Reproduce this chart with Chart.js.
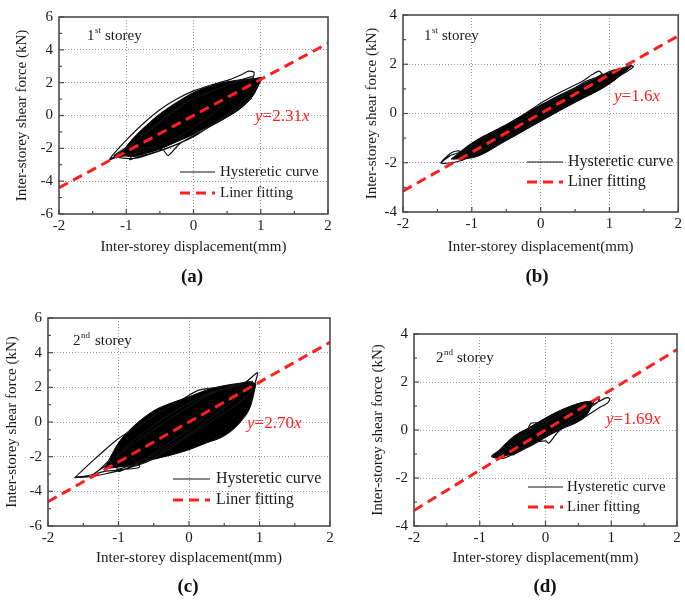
<!DOCTYPE html>
<html><head><meta charset="utf-8">
<script src="https://cdn.jsdelivr.net/npm/chart.js@4"></script>
<style>
html,body{margin:0;padding:0;background:#fff;}
#wrap{position:relative;width:685px;height:601px;overflow:hidden;}
canvas{position:absolute;}
</style></head><body>
<div id="wrap">
<canvas id="ca" width="345" height="300" style="left:0;top:0"></canvas>
<canvas id="cb" width="340" height="300" style="left:345px;top:0"></canvas>
<canvas id="cc" width="345" height="301" style="left:0;top:300px"></canvas>
<canvas id="cd" width="340" height="301" style="left:345px;top:300px"></canvas>
</div>
<script>
// ---------- data ----------
const xTicks = [-2, -1, 0, 1, 2];
const yTicksAC = [-6, -4, -2, 0, 2, 4, 6];
const yTicksBD = [-4, -2, 0, 2, 4];
const xTitle = 'Inter-storey displacement(mm)';
const yTitle = 'Inter-storey shear force (kN)';
const panelLabels = ['(a)', '(b)', '(c)', '(d)'];
const storeyNums = ['1', '1', '2', '2'];
const storeySups = ['st', 'st', 'nd', 'nd'];
const fitCoefs = ['2.31', '1.6', '2.70', '1.69'];
const legendNames = ['Hysteretic curve', 'Liner fitting'];

// fitted lines (end points)
const fitXA = [-2, 2], fitYA = [-4.4, 4.4];
const fitXB = [-2, 2], fitYB = [-3.15, 3.15];
const fitXC = [-2, 2], fitYC = [-4.6, 4.6];
const fitXD = [-2, 2], fitYD = [-3.35, 3.35];

// hysteretic loops (traced)
const hystXA = [-1.25,-1.2,-1.0,-0.75,-0.5,-0.25,0.0,0.3,0.55,0.72,0.82,0.9,0.88,0.72,0.5,0.25,-0.05,-0.35,-0.65,-0.95,-1.15,-1.25,
  -1.1,-0.9,-0.65,-0.35,-0.05,0.3,0.62,0.88,1.02,0.97,0.85,0.66,0.38,0.08,-0.25,-0.55,-0.85,-0.95,
  -0.88,-0.7,-0.45,-0.38,-0.2,0.15,0.45,0.68,0.8,0.86,0.82,0.76,0.79,0.84,
  0.6,0.3,0.0,-0.3,-0.6,-0.85,-1.05,-1.18,-1.0,-0.8,-0.55,-0.3,0.0,0.35,0.65,0.9];
const hystYA = [-2.7,-2.4,-1.5,-0.5,0.35,1.0,1.5,1.9,2.2,2.5,2.7,2.62,2.25,1.6,0.8,0.0,-0.85,-1.55,-2.05,-2.4,-2.55,-2.7,
  -2.3,-1.75,-0.9,0.05,0.9,1.55,2.0,2.2,2.3,1.95,1.3,0.6,-0.25,-1.1,-1.75,-2.2,-2.55,-2.7,
  -2.3,-1.95,-2.1,-2.45,-1.7,-0.9,-0.2,0.45,0.9,1.05,1.15,0.95,0.85,1.0,
  0.3,-0.5,-1.3,-1.85,-2.3,-2.6,-2.6,-2.45,-1.95,-1.35,-0.55,0.3,1.0,1.6,2.1,2.4];
const hystXB = [-1.45,-1.32,-1.15,-1.0,-0.8,-0.6,-0.3,0.0,0.3,0.6,0.75,0.85,0.92,1.1,1.3,1.35,1.22,1.0,0.7,0.4,0.1,-0.2,-0.5,-0.8,-1.0,-1.2,-1.36,-1.45,
  -1.3,-1.18,-1.12,-1.28,-1.05,-0.9,-0.75,-0.85,-0.6,-0.3,-0.1,0.15,0.45,0.65,0.8,0.9,0.78,0.55,0.25,-0.05,
  -0.35,-0.65,-0.95,-1.15,-0.9,-0.6,-0.3,0.05,0.35,0.7,1.0,1.2];
const hystYB = [-2.0,-1.72,-1.55,-1.3,-0.95,-0.62,-0.15,0.42,0.88,1.3,1.58,1.72,1.55,1.75,1.95,1.9,1.65,1.32,0.85,0.35,-0.15,-0.62,-1.08,-1.48,-1.72,-1.95,-2.02,-2.0,
  -1.6,-1.52,-1.78,-1.82,-1.45,-1.05,-0.85,-1.2,-0.95,-0.45,-0.05,0.5,0.95,1.3,1.45,1.6,1.25,0.85,0.3,-0.25,
  -0.75,-1.2,-1.65,-1.9,-1.35,-0.85,-0.3,0.3,0.75,1.25,1.7,1.85];
const hystXC = [-1.62,-1.3,-1.0,-0.7,-0.4,-0.1,0.15,0.5,0.8,0.97,0.94,0.85,0.6,0.3,0.0,-0.3,-0.6,-0.9,-1.2,-1.4,-1.62,
  -1.35,-1.1,-0.9,-0.6,-0.3,0.0,0.3,0.6,0.9,0.8,0.55,0.2,-0.1,-0.4,-0.7,-1.0,-1.02,-0.85,-0.7,-0.95,-1.2,-1.35,
  -1.1,-0.85,-0.55,-0.25,0.05,0.35,0.65,0.9,0.7,0.4,0.1,-0.2,-0.5,-0.8,-1.05];
const hystYC = [-3.2,-2.0,-0.95,-0.2,0.6,1.3,1.85,2.05,2.3,2.85,2.3,1.6,0.8,0.0,-0.8,-1.6,-2.3,-2.7,-3.0,-3.15,-3.2,
  -3.0,-2.1,-1.6,-0.7,0.1,0.9,1.6,2.0,2.2,1.9,1.2,0.2,-0.7,-1.5,-2.3,-2.85,-2.4,-2.0,-2.6,-2.75,-2.85,-3.0,
  -2.3,-1.3,-0.35,0.5,1.2,1.75,2.1,2.35,1.5,0.5,-0.4,-1.2,-1.9,-2.45,-2.8];
const hystXD = [-0.82,-0.62,-0.42,-0.22,0.0,0.2,0.4,0.58,0.72,0.82,0.78,0.6,0.4,0.2,0.0,-0.2,-0.45,-0.65,-0.82,
  -0.7,-0.5,-0.3,-0.22,-0.05,0.15,0.35,0.55,0.75,0.93,0.98,0.94,0.8,0.6,0.4,0.2,0.05,0.0,-0.2,-0.45,-0.6,-0.75,
  -0.55,-0.3,-0.05,0.25,0.5,0.7,0.55,0.3,0.05,-0.2,-0.5];
const hystYD = [-1.1,-0.72,-0.35,0.05,0.42,0.75,1.0,1.15,1.2,1.3,1.12,0.8,0.42,0.1,-0.3,-0.62,-0.95,-1.18,-1.1,
  -0.85,-0.5,-0.15,0.28,0.3,0.55,0.85,0.95,1.1,1.35,1.3,1.12,0.9,0.55,0.3,-0.05,-0.55,-0.45,-0.55,-0.85,-1.05,-1.2,
  -0.7,-0.25,0.2,0.65,1.0,1.15,0.7,0.25,-0.2,-0.6,-1.05];

// dense band envelope (upper / lower edges of the saturated region)
const bandXA = [-1.1,-0.9,-0.7,-0.5,-0.25,0,0.25,0.5,0.75,0.9,1.02];
const bandUpA = [-2.4,-1.4,-0.6,0.1,0.8,1.4,1.8,2.05,2.2,2.25,2.3];
const bandLoA = [-2.4,-2.5,-2.3,-2.05,-1.6,-1.15,-0.6,-0.1,0.6,1.3,2.3];
const bandXB = [-1.3,-1.0,-0.5,0,0.5,1.0,1.32];
const bandUpB = [-1.85,-1.2,-0.45,0.35,1.05,1.65,1.92];
const bandLoB = [-1.85,-1.8,-1.1,-0.3,0.45,1.2,1.92];
const bandXC = [-1.2,-1.0,-0.8,-0.5,-0.25,0,0.25,0.5,0.75,0.88,0.95];
const bandUpC = [-2.7,-1.2,-0.3,0.65,1.1,1.45,1.85,2.1,2.25,2.3,2.2];
const bandLoC = [-2.7,-2.6,-2.5,-2.15,-1.9,-1.6,-1.2,-0.8,0.1,1.0,2.2];
const bandXD = [-0.8,-0.5,-0.25,0,0.25,0.5,0.62,0.74];
const bandUpD = [-1.12,-0.3,0.1,0.5,0.85,1.1,1.18,1.2];
const bandLoD = [-1.12,-1.0,-0.65,-0.3,0.05,0.35,0.6,1.2];

// ---------- drawing ----------
const SERIF = "'Liberation Serif','Times New Roman',serif";
const FRAME = '#4a4a4a';
const RED = '#ff1f1f';
Chart.defaults.font.family = SERIF;
Chart.defaults.font.size = 15;
Chart.defaults.color = '#1a1a1a';

const zip = (xs, ys) => xs.map((x, i) => ({x, y: ys[i]}));

const decoPlugin = {
  id: 'deco',
  afterDraw(chart, args, o) {
    const ctx = chart.ctx, a = chart.chartArea;
    const xs = chart.scales.x, ys = chart.scales.y;
    ctx.save();
    ctx.strokeStyle = FRAME;
    ctx.lineWidth = 1.2;
    for (let v = xs.min; v <= xs.max + 1e-9; v += 0.5) {
      const px = xs.getPixelForValue(v);
      const len = Math.abs(v - Math.round(v)) < 1e-9 ? 5 : 3;
      ctx.beginPath(); ctx.moveTo(px, a.bottom); ctx.lineTo(px, a.bottom - len); ctx.stroke();
    }
    for (let v = ys.min; v <= ys.max + 1e-9; v += 1) {
      const py = ys.getPixelForValue(v);
      const len = Math.round(v) % 2 === 0 ? 5 : 3;
      ctx.beginPath(); ctx.moveTo(a.left, py); ctx.lineTo(a.left + len, py); ctx.stroke();
    }
    ctx.lineWidth = 1.6;
    ctx.strokeRect(a.left, a.top, a.right - a.left, a.bottom - a.top);

    // legend
    const L = o.legend;
    ctx.lineWidth = 1.2; ctx.strokeStyle = '#111'; ctx.setLineDash([]);
    ctx.beginPath(); ctx.moveTo(L.x0, L.y1); ctx.lineTo(L.x1, L.y1); ctx.stroke();
    ctx.lineWidth = 3; ctx.strokeStyle = RED; ctx.setLineDash([10, 6]);
    ctx.beginPath(); ctx.moveTo(L.x0, L.y2); ctx.lineTo(L.x1, L.y2); ctx.stroke();
    ctx.setLineDash([]);
    ctx.fillStyle = '#1a1a1a';
    ctx.font = L.size + 'px ' + SERIF;
    ctx.textBaseline = 'middle'; ctx.textAlign = 'left';
    ctx.fillText(legendNames[0], L.tx, L.y1);
    ctx.fillText(legendNames[1], L.tx, L.y2);

    // storey label
    const S = o.storey;
    ctx.textBaseline = 'alphabetic';
    ctx.font = '15px ' + SERIF;
    ctx.fillText(storeyNums[o.i], S.x, S.y);
    let w = ctx.measureText(storeyNums[o.i]).width;
    ctx.font = '9px ' + SERIF;
    ctx.fillText(storeySups[o.i], S.x + w + 0.5, S.y - 7);
    ctx.font = '15px ' + SERIF;
    ctx.fillText('storey', S.sx, S.y);

    // fit equation
    const F = o.fit;
    ctx.fillStyle = RED;
    let x = F.x;
    ctx.font = 'italic 17px ' + SERIF; ctx.fillText('y', x, F.y); x += ctx.measureText('y').width;
    ctx.font = '17px ' + SERIF; const mid = '=' + fitCoefs[o.i]; ctx.fillText(mid, x, F.y); x += ctx.measureText(mid).width;
    ctx.font = 'italic 17px ' + SERIF; ctx.fillText('x', x, F.y);

    // panel label
    ctx.fillStyle = '#111';
    ctx.font = 'bold 19px ' + SERIF;
    ctx.textAlign = 'center'; ctx.textBaseline = 'middle';
    ctx.fillText(panelLabels[o.i], o.panel.x, o.panel.y);
    ctx.restore();
  }
};

function makeChart(cfg) {
  const yMin = cfg.yTicks[0], yMax = cfg.yTicks[cfg.yTicks.length - 1];
  const gridColor = (min, max) => (c) => (c.tick && (c.tick.value === min || c.tick.value === max)) ? 'rgba(0,0,0,0)' : '#9c9c9c';
  new Chart(document.getElementById(cfg.id), {
    type: 'line',
    data: {
      datasets: [
        {data: zip(cfg.fitX, cfg.fitY), borderColor: RED, borderWidth: 3, borderDash: [10, 6], pointRadius: 0, fill: false, tension: 0, clip: 0},
        {data: zip(cfg.hystX, cfg.hystY), borderColor: '#111', borderWidth: 1.2, pointRadius: 0, fill: false, tension: 0.25},
        {data: zip(cfg.bandX, cfg.bandLo), borderColor: '#000', borderWidth: 1, pointRadius: 0, fill: false, cubicInterpolationMode: 'monotone'},
        {data: zip(cfg.bandX, cfg.bandUp), borderColor: '#000', borderWidth: 1, pointRadius: 0, fill: '-1', backgroundColor: '#000', cubicInterpolationMode: 'monotone'}
      ]
    },
    options: {
      responsive: false, animation: false, events: [],
      layout: {padding: {top: cfg.padTop, right: cfg.padRight, left: 0, bottom: 0}},
      plugins: {
        legend: {display: false}, tooltip: {enabled: false},
        deco: {i: cfg.i, legend: cfg.legend, storey: cfg.storey, fit: cfg.fit, panel: cfg.panel}
      },
      scales: {
        x: {
          type: 'linear', min: xTicks[0], max: xTicks[xTicks.length - 1],
          afterBuildTicks: s => { s.ticks = xTicks.map(v => ({value: v})); },
          afterFit: s => { s.height = cfg.xH; },
          ticks: {padding: 3, callback: v => String(v), maxRotation: 0, autoSkip: false},
          grid: {color: gridColor(xTicks[0], xTicks[xTicks.length - 1]), drawTicks: false, lineWidth: 1},
          border: {display: false, dash: [1, 2]},
          title: {display: true, text: xTitle, font: {size: 15}, padding: {top: 0, bottom: cfg.xTitlePad}}
        },
        y: {
          type: 'linear', min: yMin, max: yMax,
          afterBuildTicks: s => { s.ticks = cfg.yTicks.map(v => ({value: v})); },
          afterFit: s => { s.width = cfg.yW; },
          ticks: {padding: 6, callback: v => String(v), autoSkip: false},
          grid: {color: gridColor(yMin, yMax), drawTicks: false, lineWidth: 1},
          border: {display: false, dash: [1, 2]},
          title: {display: true, text: yTitle, font: {size: 15}, padding: {top: cfg.yTitlePad, bottom: 0}}
        }
      }
    },
    plugins: [decoPlugin]
  });
}

makeChart({i: 0, id: 'ca', yTicks: yTicksAC, fitX: fitXA, fitY: fitYA, hystX: hystXA, hystY: hystYA, bandX: bandXA, bandUp: bandUpA, bandLo: bandLoA,
  padTop: 17, padRight: 17, yW: 59, xH: 86, xTitlePad: 44, yTitlePad: 13,
  legend: {x0: 180, x1: 215, y1: 172, y2: 193, tx: 220, size: 15},
  storey: {x: 87, sx: 105, y: 40}, fit: {x: 255, y: 121}, panel: {x: 192, y: 277}});
makeChart({i: 1, id: 'cb', yTicks: yTicksBD, fitX: fitXB, fitY: fitYB, hystX: hystXB, hystY: hystYB, bandX: bandXB, bandUp: bandUpB, bandLo: bandLoB,
  padTop: 9, padRight: 5, yW: 58, xH: 88, xTitlePad: 44, yTitlePad: 18,
  legend: {x0: 182, x1: 218, y1: 162, y2: 182, tx: 223, size: 16},
  storey: {x: 79, sx: 97, y: 40}, fit: {x: 269, y: 101}, panel: {x: 192, y: 277}});
makeChart({i: 2, id: 'cc', yTicks: yTicksAC, fitX: fitXC, fitY: fitYC, hystX: hystXC, hystY: hystYC, bandX: bandXC, bandUp: bandUpC, bandLo: bandLoC,
  padTop: 18, padRight: 15, yW: 48, xH: 75, xTitlePad: 34, yTitlePad: 3,
  legend: {x0: 173, x1: 210, y1: 179, y2: 200, tx: 216, size: 16},
  storey: {x: 73, sx: 95, y: 45}, fit: {x: 247, y: 128}, panel: {x: 188, y: 287}});
makeChart({i: 3, id: 'cd', yTicks: yTicksBD, fitX: fitXD, fitY: fitYD, hystX: hystXD, hystY: hystYD, bandX: bandXD, bandUp: bandUpD, bandLo: bandLoD,
  padTop: 34, padRight: 8, yW: 69, xH: 75, xTitlePad: 34, yTitlePad: 24,
  legend: {x0: 183, x1: 218, y1: 187, y2: 207, tx: 222, size: 15},
  storey: {x: 91, sx: 112, y: 62}, fit: {x: 261, y: 124}, panel: {x: 200, y: 287}});
</script>
</body></html>
